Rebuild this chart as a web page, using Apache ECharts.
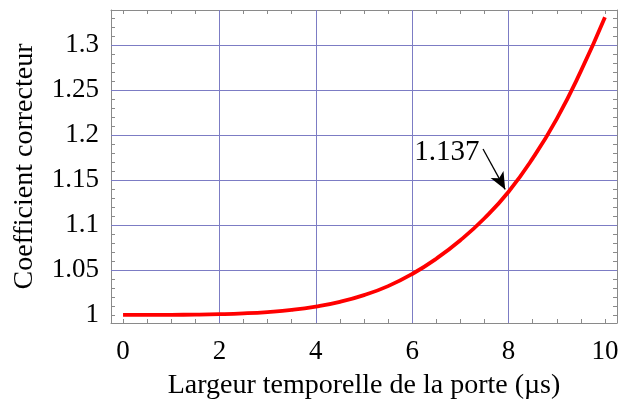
<!DOCTYPE html>
<html>
<head>
<meta charset="utf-8">
<script src="https://cdn.jsdelivr.net/npm/echarts@6/dist/echarts.min.js"></script>
<style>html,body{margin:0;padding:0;background:#fff;}#c{width:619px;height:400px;}</style>
</head>
<body>
<div id="c"></div>
<script>
// Data
const xValues = [0, 0.5, 1, 1.5, 2, 2.5, 3, 3.5, 4, 4.5, 5, 5.5, 6, 6.5, 7, 7.5, 8, 8.5, 9, 9.5, 10];
const yValues = [1.0000, 1.0000, 1.0001, 1.0003, 1.0008, 1.0017, 1.0032, 1.0055, 1.0092, 1.0145, 1.0220, 1.0320, 1.0455, 1.0625, 1.0830, 1.1075, 1.1370, 1.1740, 1.2180, 1.2710, 1.3310];
const xLabelValues = [0, 2, 4, 6, 8, 10];
const yLabelValues = [1, 1.05, 1.1, 1.15, 1.2, 1.25, 1.3];
const yLabelTexts = ['1', '1.05', '1.1', '1.15', '1.2', '1.25', '1.3'];
const xGridValues = [2, 4, 6, 8];
const yGridValues = [1.05, 1.1, 1.15, 1.2, 1.25, 1.3];
const xTickValues = [0,0.5,1,1.5,2,2.5,3,3.5,4,4.5,5,5.5,6,6.5,7,7.5,8,8.5,9,9.5,10];
const yTickValues = [1,1.01,1.02,1.03,1.04,1.05,1.06,1.07,1.08,1.09,1.1,1.11,1.12,1.13,1.14,1.15,1.16,1.17,1.18,1.19,1.2,1.21,1.22,1.23,1.24,1.25,1.26,1.27,1.28,1.29,1.3,1.31,1.32,1.33];
const annotationText = '1.137';
const annotationArrowStart = [7.47, 1.1845];
const annotationArrowEnd = [7.93, 1.1395];
const annotationTextPos = [6.72, 1.1805];
const xTitle = 'Largeur temporelle de la porte (µs)';
const yTitle = 'Coefficient correcteur';

const FONT = "'Liberation Serif', 'Times New Roman', serif";
const frameColor = '#8a8a8a';
const gridColor = '#7c7cc4';

const chart = echarts.init(document.getElementById('c'), null, {renderer: 'canvas'});

const xRange = {min: -0.25, max: 10.25};
const yRange = {min: 0.991, max: 1.339};

function xAx(pos, show) {
  return Object.assign({
    type: 'value', position: pos, ...xRange,
    axisLine: {show: true, onZero: false, lineStyle: {color: frameColor, width: 1}},
    axisTick: {show: true, inside: true, length: 4, customValues: xTickValues, lineStyle: {color: frameColor}},
    axisLabel: {show: show, customValues: xLabelValues, color: '#000', fontFamily: FONT, fontSize: 27, margin: 15,
      formatter: v => String(v)},
    splitLine: {show: false}
  }, show ? {name: xTitle, nameLocation: 'middle', nameGap: 49,
    nameTextStyle: {color: '#000', fontFamily: FONT, fontSize: 28}} : {});
}
function yAx(pos, show) {
  return Object.assign({
    type: 'value', position: pos, ...yRange,
    axisLine: {show: true, onZero: false, lineStyle: {color: frameColor, width: 1}},
    axisTick: {show: true, inside: true, length: 4, customValues: yTickValues, lineStyle: {color: frameColor}},
    axisLabel: {show: show, customValues: yLabelValues, color: '#000', fontFamily: FONT, fontSize: 27, margin: 12,
      formatter: v => { const i = yLabelValues.findIndex(t => Math.abs(t - v) < 1e-6); return i >= 0 ? yLabelTexts[i] : ''; }},
    splitLine: {show: false}
  }, show ? {name: yTitle, nameLocation: 'middle', nameGap: 72,
    nameTextStyle: {color: '#000', fontFamily: FONT, fontSize: 28}} : {});
}

chart.setOption({
  animation: false,
  backgroundColor: '#fff',
  grid: {left: 111, right: 2, top: 10, bottom: 77, containLabel: false, outerBoundsMode: 'none'},
  xAxis: [xAx('bottom', true), xAx('top', false)],
  yAxis: [yAx('left', true), yAx('right', false)],
  series: [
    {
      type: 'line', data: [], z: 1, silent: true,
      markLine: {
        silent: true, symbol: ['none', 'none'], animation: false,
        label: {show: false},
        lineStyle: {color: gridColor, width: 1, type: 'solid'},
        data: xGridValues.map(v => ({xAxis: v})).concat(yGridValues.map(v => ({yAxis: v})))
      }
    },
    {
      type: 'line', z: 5, silent: true,
      data: xValues.map((x, i) => [x, yValues[i]]),
      smooth: 0.5, showSymbol: false,
      lineStyle: {color: '#ff0000', width: 3.8},
      markLine: {
        silent: true, animation: false, symbol: ['none', 'arrow'], symbolSize: [11, 17],
        label: {show: false},
        lineStyle: {color: '#000', width: 1.3, type: 'solid'},
        data: [[{coord: annotationArrowStart}, {coord: annotationArrowEnd}]]
      },
      markPoint: {
        silent: true, animation: false, symbol: 'circle', symbolSize: 0,
        label: {show: true, position: 'inside', color: '#000', fontFamily: FONT, fontSize: 29, formatter: annotationText},
        data: [{coord: annotationTextPos}]
      }
    }
  ]
});
</script>
</body>
</html>
